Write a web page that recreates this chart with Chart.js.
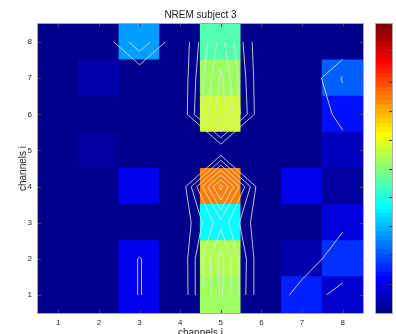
<!DOCTYPE html>
<html><head><meta charset="utf-8">
<script src="https://cdn.jsdelivr.net/npm/chart.js@4/dist/chart.umd.min.js"></script>
<style>
html,body{margin:0;padding:0;background:#fff;overflow:hidden}
#wrap{position:relative;width:396px;height:334px}
#main{position:absolute;left:0;top:0}
#cb{position:absolute;left:370px;top:0}
</style></head>
<body><div id="wrap"><canvas id="main" width="396" height="334"></canvas><canvas id="cb" width="26" height="334"></canvas></div>
<script>
// ---- data ----
const chartTitle = 'NREM subject 3';
const channelsJ = [1, 2, 3, 4, 5, 6, 7, 8];          // columns (x)
const channelsI = [1, 2, 3, 4, 5, 6, 7, 8];          // rows (y)
const row1 = [0, 0, 0.105, 0, 0.52, 0, 0.145, 0.07];
const row2 = [0, 0, 0.105, 0, 0.54, 0, 0.04, 0.16];
const row3 = [0, 0, 0, 0, 0.37, 0, 0, 0.079];
const row4 = [0, 0, 0.097, 0, 0.735, 0, 0.098, 0.02];
const row5 = [0, 0.025, 0, 0, 0, 0, 0, 0.055];
const row6 = [0, 0, 0, 0, 0.575, 0, 0, 0.135];
const row7 = [0, 0.035, 0, 0, 0.52, 0, 0, 0.21];
const row8 = [0, 0, 0.27, 0, 0.44, 0, 0, 0];
const contourLevels = [0.1, 0.2, 0.3, 0.4, 0.5, 0.6, 0.7];
const colorbarTicks = [0, 0.1, 0.2, 0.3, 0.4, 0.5, 0.6, 0.7, 0.8, 0.9, 1];
const cmin = 0, cmax = 1;

const rows = [row1, row2, row3, row4, row5, row6, row7, row8];

// MATLAB jet(64)
function jet64(i) {
  const b = i <= 8 ? (i + 8) / 16 : i <= 23 ? 1 : i <= 39 ? (40 - i) / 16 : 0;
  const g = i <= 8 ? 0 : i <= 24 ? (i - 8) / 16 : i <= 39 ? 1 : i <= 55 ? (56 - i) / 16 : 0;
  const r = i <= 24 ? 0 : i <= 40 ? (i - 24) / 16 : i <= 55 ? 1 : (72 - i) / 16;
  return 'rgb(' + Math.round(r * 255) + ',' + Math.round(g * 255) + ',' + Math.round(b * 255) + ')';
}
function colorFor(v) {
  let i = Math.floor((v - cmin) / (cmax - cmin) * 64) + 1;
  i = Math.max(1, Math.min(64, i));
  return jet64(i);
}

// heatmap cells as floating bars
const cellSets = rows.map((vals, ri) => ({
  type: 'bar',
  data: channelsJ.map((c) => ({ x: c, y: [channelsI[ri] - 0.5, channelsI[ri] + 0.5] })),
  backgroundColor: vals.map(colorFor),
  borderWidth: 0,
  inflateAmount: 0.6,
  grouped: false,
  barPercentage: 1,
  categoryPercentage: 1,
  order: 2
}));

// contour lines via marching squares on the same matrix
function contourSegments(level) {
  const pts = [];
  const Z = (c, r) => rows[r][c];
  for (let r = 0; r < rows.length - 1; r++) {
    for (let c = 0; c < channelsJ.length - 1; c++) {
      const x0 = channelsJ[c], x1 = channelsJ[c + 1], y0 = channelsI[r], y1 = channelsI[r + 1];
      const z00 = Z(c, r), z10 = Z(c + 1, r), z11 = Z(c + 1, r + 1), z01 = Z(c, r + 1);
      const cross = (a, b) => (a >= level) !== (b >= level);
      const t = (a, b) => (level - a) / (b - a);
      const E = {};
      if (cross(z00, z10)) E.b = { x: x0 + t(z00, z10) * (x1 - x0), y: y0 };
      if (cross(z10, z11)) E.r = { x: x1, y: y0 + t(z10, z11) * (y1 - y0) };
      if (cross(z01, z11)) E.t = { x: x0 + t(z01, z11) * (x1 - x0), y: y1 };
      if (cross(z00, z01)) E.l = { x: x0, y: y0 + t(z00, z01) * (y1 - y0) };
      const keys = Object.keys(E);
      const segs = [];
      if (keys.length === 2) {
        segs.push([E[keys[0]], E[keys[1]]]);
      } else if (keys.length === 4) {
        const center = (z00 + z10 + z11 + z01) / 4 >= level;
        if ((z00 >= level) !== center) segs.push([E.b, E.l]);
        if ((z10 >= level) !== center) segs.push([E.b, E.r]);
        if ((z11 >= level) !== center) segs.push([E.r, E.t]);
        if ((z01 >= level) !== center) segs.push([E.l, E.t]);
      }
      segs.forEach(s => { pts.push(s[0], s[1], { x: null, y: null }); });
    }
  }
  return pts;
}
const contourSets = contourLevels.map(L => ({
  type: 'line',
  data: contourSegments(L),
  borderColor: 'rgba(225,225,225,0.85)',
  borderWidth: 1,
  pointRadius: 0,
  spanGaps: false,
  fill: false,
  tension: 0,
  order: 1
}));

const FONT = 'Helvetica, Arial, "Liberation Sans", sans-serif';

const framePlugin = {
  id: 'frame',
  afterDatasetsDraw(chart) {
    const { ctx, chartArea: a, scales } = chart;
    ctx.save();
    ctx.strokeStyle = '#4a4a4a';
    ctx.lineWidth = 1;
    ctx.beginPath();
    channelsJ.forEach(v => {
      const px = Math.round(scales.x.getPixelForValue(v)) + 0.5;
      ctx.moveTo(px, a.bottom); ctx.lineTo(px, a.bottom - 3);
      ctx.moveTo(px, a.top); ctx.lineTo(px, a.top + 3);
    });
    channelsI.forEach(v => {
      const py = Math.round(scales.y.getPixelForValue(v)) + 0.5;
      ctx.moveTo(a.left, py); ctx.lineTo(a.left + 3, py);
      ctx.moveTo(a.right, py); ctx.lineTo(a.right - 3, py);
    });
    ctx.stroke();
    ctx.strokeStyle = '#a8a8a8';
    ctx.strokeRect(Math.round(a.left) - 0.5, Math.round(a.top) - 0.5, Math.round(a.right - a.left) + 1, Math.round(a.bottom - a.top) + 1);
    // title centred over the axes
    ctx.fillStyle = '#1a1a1a';
    ctx.font = '10px ' + FONT;
    ctx.textAlign = 'center';
    ctx.textBaseline = 'middle';
    ctx.fillText(chartTitle, (a.left + a.right) / 2, a.top - 9);
    ctx.restore();
  }
};

new Chart(document.getElementById('main'), {
  type: 'bar',
  data: { datasets: [...contourSets, ...cellSets] },
  options: {
    responsive: false,
    animation: false,
    events: [],
    layout: { padding: { left: 0, right: 33, top: 24, bottom: 0 } },
    plugins: {
      legend: { display: false },
      tooltip: { enabled: false },
      title: { display: false }
    },
    scales: {
      x: {
        type: 'linear', min: 0.5, max: 8.5, offset: false,
        afterBuildTicks: s => { s.ticks = channelsJ.map(v => ({ value: v })); },
        afterFit: s => { s.height = 21; },
        grid: { display: false, drawTicks: false },
        border: { display: false },
        ticks: { color: '#262626', font: { family: FONT, size: 8 }, padding: 5, maxRotation: 0, autoSkip: false },
        title: { display: true, text: 'channels j', color: '#1a1a1a', font: { family: FONT, size: 10 }, padding: { top: 0, bottom: -5 } }
      },
      y: {
        type: 'linear', min: 0.5, max: 8.5, offset: false,
        afterBuildTicks: s => { s.ticks = channelsI.map(v => ({ value: v })); },
        afterFit: s => { s.width = 38; },
        grid: { display: false, drawTicks: false },
        border: { display: false },
        ticks: { color: '#262626', font: { family: FONT, size: 8 }, padding: 6, autoSkip: false },
        title: { display: true, text: 'channels i', color: '#1a1a1a', font: { family: FONT, size: 10 }, padding: { top: 17, bottom: 0 } }
      }
    }
  },
  plugins: [framePlugin]
});

// ---- colorbar ----
const cbSteps = Array.from({ length: 64 }, (_, k) => k);
const cbPlugin = {
  id: 'cbframe',
  afterDatasetsDraw(chart) {
    const { ctx, chartArea: a, scales } = chart;
    ctx.save();
    ctx.strokeStyle = '#3a3a3a';
    ctx.lineWidth = 1;
    ctx.beginPath();
    colorbarTicks.forEach(v => {
      const py = Math.round(scales.y.getPixelForValue(v)) + 0.5;
      ctx.moveTo(a.right, py); ctx.lineTo(a.right - 3, py);
    });
    ctx.stroke();
    ctx.strokeStyle = '#a8a8a8';
    ctx.strokeRect(Math.round(a.left) - 0.5, Math.round(a.top) - 0.5, Math.round(a.right - a.left) + 1, Math.round(a.bottom - a.top) + 1);
    ctx.fillStyle = '#8a8a8a';
    ctx.font = '8px ' + FONT;
    ctx.textAlign = 'left';
    ctx.textBaseline = 'middle';
    colorbarTicks.forEach(v => {
      ctx.fillText(String(v), a.right + 3.5, scales.y.getPixelForValue(v));
    });
    ctx.restore();
  }
};
new Chart(document.getElementById('cb'), {
  type: 'bar',
  data: {
    labels: ['cb'],
    datasets: cbSteps.map(k => ({
      data: [[cmin + (cmax - cmin) * k / 64, cmin + (cmax - cmin) * (k + 1) / 64]],
      backgroundColor: jet64(k + 1),
      borderWidth: 0,
      inflateAmount: 0.6,
      grouped: false,
      barPercentage: 1,
      categoryPercentage: 1
    }))
  },
  options: {
    responsive: false,
    animation: false,
    events: [],
    layout: { padding: { left: 6, right: 4, top: 24, bottom: 21 } },
    plugins: { legend: { display: false }, tooltip: { enabled: false }, title: { display: false } },
    scales: {
      x: { display: false },
      y: { display: false, min: cmin, max: cmax }
    }
  },
  plugins: [cbPlugin]
});
</script>
</body></html>
